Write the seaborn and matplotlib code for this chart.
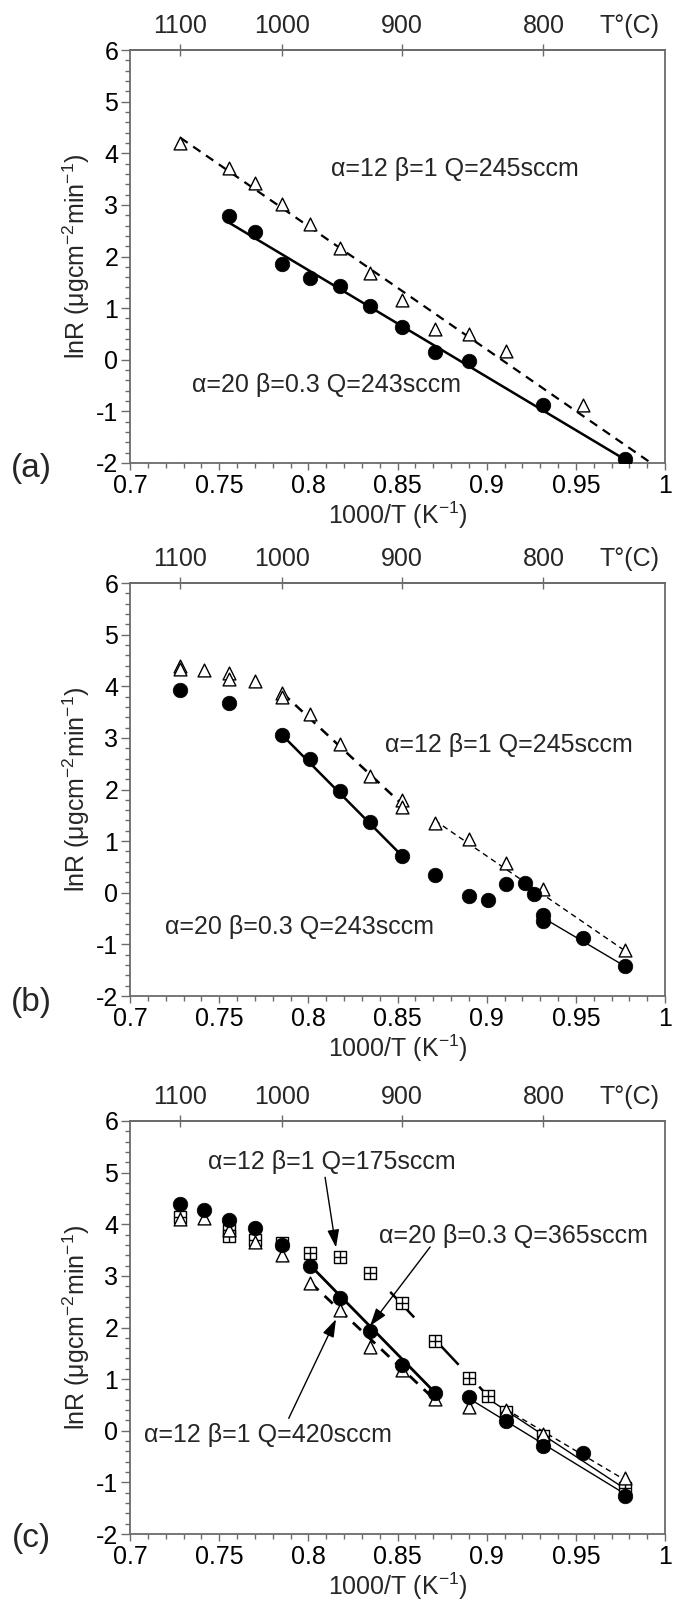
import numpy as np
import matplotlib
matplotlib.use("Agg")
import matplotlib.pyplot as plt
import seaborn as sns
from matplotlib.ticker import MultipleLocator, FuncFormatter, NullLocator

sns.set_theme(style="ticks")
plt.rcParams["font.family"] = ["Liberation Sans", "DejaVu Sans"]
plt.rcParams["mathtext.fontset"] = "custom"
plt.rcParams["mathtext.rm"] = "Liberation Sans"
plt.rcParams["mathtext.it"] = "Liberation Sans:italic"
plt.rcParams["mathtext.bf"] = "Liberation Sans:bold"
plt.rcParams["axes.unicode_minus"] = False

# ---------------- data (deposition temperature in °C, lnR) ----------------
# (a)
tri_a_T = [1100, 1050, 1025, 1000, 975, 950, 925, 900, 875, 850, 825, 775]
tri_a = [4.20, 3.71, 3.42, 3.01, 2.63, 2.17, 1.69, 1.16, 0.60, 0.49, 0.17, -0.87]
circ_a_T = [1050, 1025, 1000, 975, 950, 925, 900, 875, 850, 800, 750]
circ_a = [2.78, 2.47, 1.85, 1.58, 1.43, 1.04, 0.64, 0.15, -0.02, -0.87, -1.93]
fit_a_tri_T = [1100, 736]
fit_a_tri = [4.30, -1.97]
fit_a_circ_T = [1050, 753]
fit_a_circ = [2.65, -1.87]

# (b)
tri_b_T = [1100, 1100, 1075, 1050, 1050, 1025, 1000, 1000, 975, 950, 925,
           900, 900, 875, 850, 825, 800, 750]
tri_b = [4.40, 4.34, 4.32, 4.25, 4.15, 4.10, 3.87, 3.79, 3.47, 2.89, 2.27,
         1.79, 1.66, 1.36, 1.04, 0.58, 0.08, -1.10]
circ_b_T = [1100, 1050, 1000, 975, 950, 925, 900, 875, 850, 837, 825, 812,
            806, 800, 800, 775, 750]
circ_b = [3.92, 3.67, 3.05, 2.59, 1.98, 1.38, 0.72, 0.34, -0.07, -0.15, 0.17,
          0.19, -0.02, -0.44, -0.55, -0.87, -1.42]
fit_b_tri_hi_T = [1000, 900]
fit_b_tri_hi = [3.87, 1.72]
fit_b_tri_lo_T = [875, 750]
fit_b_tri_lo = [1.40, -1.12]
fit_b_circ_hi_T = [1000, 900]
fit_b_circ_hi = [3.05, 0.72]
fit_b_circ_lo_T = [800, 750]
fit_b_circ_lo = [-0.49, -1.42]

# (c)
circ_c_T = [1100, 1075, 1050, 1025, 1000, 975, 950, 925, 900, 875, 850, 825, 800, 775, 750]
circ_c = [4.39, 4.28, 4.08, 3.93, 3.60, 3.19, 2.57, 1.94, 1.28, 0.74, 0.66, 0.18, -0.30, -0.44, -1.27]
tri_c_T = [1100, 1075, 1050, 1025, 1000, 975, 950, 925, 900, 875, 850, 825, 800, 750]
tri_c = [4.11, 4.12, 3.88, 3.66, 3.40, 2.87, 2.33, 1.63, 1.18, 0.62, 0.46, 0.40, -0.06, -0.92]
sq_c_T = [1100, 1050, 1050, 1025, 1000, 975, 950, 925, 900, 875, 850, 837, 825, 800, 750]
sq_c = [4.14, 3.88, 3.78, 3.69, 3.63, 3.44, 3.37, 3.06, 2.47, 1.74, 1.02, 0.67, 0.36, -0.10, -1.10]
fit_c_circ_hi_T = [975, 875]
fit_c_circ_hi = [3.20, 0.74]
fit_c_tri_hi_T = [975, 875]
fit_c_tri_hi = [2.87, 0.60]
fit_c_sq_hi_T = [909, 837]
fit_c_sq_hi = [2.69, 0.67]
fit_c_circ_lo_T = [850, 750]
fit_c_circ_lo = [0.62, -1.22]
fit_c_sq_lo_T = [837, 750]
fit_c_sq_lo = [0.62, -1.12]
fit_c_tri_lo_T = [825, 750]
fit_c_tri_lo = [0.42, -0.95]

top_ticks_C = [1100, 1000, 900, 800]

GRAY = "#6b6b6b"
FS = 18


def inv_T(t_c):
    t = np.asarray(t_c, dtype=float)
    with np.errstate(divide="ignore", invalid="ignore"):
        return 1000.0 / (t + 273.15)


def to_celsius(x):
    v = np.asarray(x, dtype=float)
    with np.errstate(divide="ignore", invalid="ignore"):
        return 1000.0 / v - 273.15


def style_axes(ax):
    ax.set_xlim(0.7, 1.0)
    ax.set_ylim(-2, 6)
    ax.xaxis.set_major_locator(MultipleLocator(0.05))
    ax.xaxis.set_minor_locator(MultipleLocator(0.01))
    ax.yaxis.set_major_locator(MultipleLocator(1))
    ax.yaxis.set_minor_locator(MultipleLocator(0.2))
    ax.xaxis.set_major_formatter(FuncFormatter(lambda v, p: f"{round(v, 2):g}"))
    ax.yaxis.set_major_formatter(FuncFormatter(lambda v, p: f"{int(round(v))}"))
    ax.tick_params(which="both", direction="out", color=GRAY, width=1.0,
                   top=False, right=False, labelsize=FS, labelcolor="black")
    ax.tick_params(axis="y", which="major", length=6.5, pad=2)
    ax.tick_params(axis="y", which="minor", length=3.5)
    ax.tick_params(axis="x", which="major", length=5, pad=3)
    ax.tick_params(axis="x", which="minor", length=3.5)
    for s in ax.spines.values():
        s.set_visible(True)
        s.set_color(GRAY)
        s.set_linewidth(1.3)
    ax.set_xlabel(r"1000/T (K$^{-1}$)", fontsize=FS, labelpad=1)
    ax.set_ylabel(r"lnR (μgcm$^{-2}$min$^{-1}$)", fontsize=FS, labelpad=3)

    sec = ax.secondary_xaxis("top", functions=(to_celsius, inv_T))
    sec.set_xticks(top_ticks_C)
    sec.xaxis.set_major_formatter(FuncFormatter(lambda v, p: f"{int(round(v))}"))
    sec.xaxis.set_minor_locator(NullLocator())
    sec.tick_params(direction="inout", length=9, width=1.0, color=GRAY,
                    labelsize=FS, pad=4)
    sec.spines["top"].set_color(GRAY)
    sec.spines["top"].set_linewidth(1.3)
    ax.annotate("T°(C)", xy=(0.99, 1.0), xycoords="axes fraction",
                xytext=(0, 8.5), textcoords="offset points",
                ha="right", va="bottom", fontsize=FS)


def fit_line(ax, t_c, y, lw, ls="-"):
    sns.lineplot(x=inv_T(t_c), y=y, ax=ax, color="black", linewidth=lw,
                 linestyle=ls, sort=False, estimator=None, zorder=2)


def pts_circle(ax, t_c, y):
    sns.scatterplot(x=inv_T(t_c), y=y, ax=ax, marker="o", s=110, color="black",
                    edgecolor="black", linewidth=0.5, zorder=5)


def pts_triangle(ax, t_c, y):
    sns.scatterplot(x=inv_T(t_c), y=y, ax=ax, marker="^", s=85, color="white",
                    edgecolor="black", linewidth=1.0, zorder=4)


def pts_boxplus(ax, t_c, y):
    sns.scatterplot(x=inv_T(t_c), y=y, ax=ax, marker="s", s=75, color="white",
                    edgecolor="black", linewidth=1.0, zorder=3)
    sns.scatterplot(x=inv_T(t_c), y=y, ax=ax, marker="+", s=75, color="black",
                    linewidth=1.0, zorder=3.1)


DASH = (0, (4, 3))
LONGDASH = (0, (14, 12))

fig = plt.figure(figsize=(6.75, 16.05), dpi=100)
W, H = 675.0, 1605.0
left, right = 130 / W, 665 / W
tops = [50, 583, 1121]
height_px = 413
axes = []
for top in tops:
    axes.append(fig.add_axes([left, 1 - (top + height_px) / H, right - left, height_px / H]))

# ---------------- (a) ----------------
ax = axes[0]
fit_line(ax, fit_a_tri_T, fit_a_tri, 1.6, DASH)
fit_line(ax, fit_a_circ_T, fit_a_circ, 1.8)
pts_triangle(ax, tri_a_T, tri_a)
pts_circle(ax, circ_a_T, circ_a)
ax.text(0.882, 3.69, "α=12 β=1 Q=245sccm", ha="center", va="center", fontsize=FS)
ax.text(0.810, -0.49, "α=20 β=0.3 Q=243sccm", ha="center", va="center", fontsize=FS)
style_axes(ax)

# ---------------- (b) ----------------
ax = axes[1]
fit_line(ax, fit_b_tri_hi_T, fit_b_tri_hi, 1.8, DASH)
fit_line(ax, fit_b_tri_lo_T, fit_b_tri_lo, 1.0, DASH)
fit_line(ax, fit_b_circ_hi_T, fit_b_circ_hi, 1.8)
fit_line(ax, fit_b_circ_lo_T, fit_b_circ_lo, 1.0)
pts_triangle(ax, tri_b_T, tri_b)
pts_circle(ax, circ_b_T, circ_b)
ax.text(0.9126, 2.86, "α=12 β=1 Q=245sccm", ha="center", va="center", fontsize=FS)
ax.text(0.795, -0.67, "α=20 β=0.3 Q=243sccm", ha="center", va="center", fontsize=FS)
style_axes(ax)

# ---------------- (c) ----------------
ax = axes[2]
fit_line(ax, fit_c_circ_hi_T, fit_c_circ_hi, 2.0)
fit_line(ax, fit_c_tri_hi_T, fit_c_tri_hi, 2.0, DASH)
fit_line(ax, fit_c_sq_hi_T, fit_c_sq_hi, 1.8, LONGDASH)
fit_line(ax, fit_c_circ_lo_T, fit_c_circ_lo, 1.0)
fit_line(ax, fit_c_sq_lo_T, fit_c_sq_lo, 1.0)
fit_line(ax, fit_c_tri_lo_T, fit_c_tri_lo, 1.0, DASH)
pts_boxplus(ax, sq_c_T, sq_c)
pts_triangle(ax, tri_c_T, tri_c)
pts_circle(ax, circ_c_T, circ_c)

arrow_kw = dict(arrowstyle="-|>,head_length=0.9,head_width=0.3", color="black",
                lw=1.0, shrinkA=0, shrinkB=0)
ax.text(0.8133, 5.20, "α=12 β=1 Q=175sccm", ha="center", va="center", fontsize=FS)
ax.annotate("", xy=(0.8155, 3.55), xytext=(0.8094, 4.91), arrowprops=arrow_kw)
ax.text(0.9148, 3.77, "α=20 β=0.3 Q=365sccm", ha="center", va="center", fontsize=FS)
ax.annotate("", xy=(0.8346, 2.03), xytext=(0.8683, 3.56), arrowprops=arrow_kw)
ax.text(0.7774, -0.08, "α=12 β=1 Q=420sccm", ha="center", va="center", fontsize=FS)
ax.annotate("", xy=(0.8155, 2.16), xytext=(0.789, 0.24), arrowprops=arrow_kw)
style_axes(ax)

# panel letters
for label, ypx in zip(["(a)", "(b)", "(c)"], [468, 1003, 1539]):
    fig.text(31 / W, 1 - ypx / H, label, ha="center", va="center", fontsize=24)

fig.savefig("out.png", dpi=100, facecolor="white")
